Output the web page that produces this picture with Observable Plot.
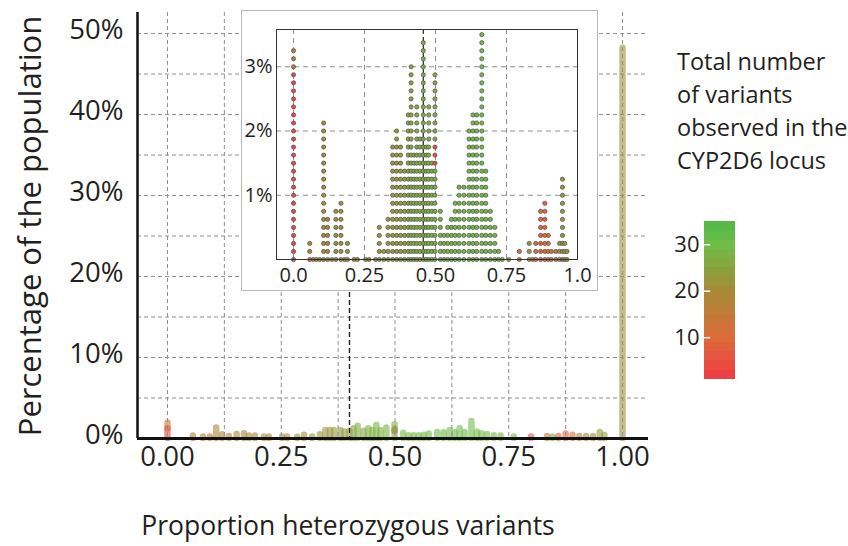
<!DOCTYPE html>
<html><head><meta charset="utf-8">
<script src="https://cdn.jsdelivr.net/npm/d3@7"></script>
<script src="https://cdn.jsdelivr.net/npm/@observablehq/plot@0.6"></script>
<style>
html,body{margin:0;padding:0;background:#fff;}
#wrap{position:relative;width:848px;height:546px;overflow:hidden;font-family:"Open Sans",sans-serif;color:#231f20;}
#main{position:absolute;left:0;top:0;}
#inset{position:absolute;left:241px;top:10px;width:355px;height:279px;border:1px solid #b8b8b8;background:#fff;}
#bar{position:absolute;left:660px;top:211px;}
.lbl{position:absolute;white-space:nowrap;}
#xt{left:348px;top:507px;font-size:26.5px;transform:translateX(-50%);}
#yt{left:29px;top:226px;font-size:31px;transform:translate(-50%,-50%) rotate(-90deg);}
#lt{left:677px;top:45px;font-size:23.5px;line-height:33px;}
</style></head><body>
<div id="wrap">
  <div id="main"></div>
  <div id="inset"></div>
  <div id="bar"></div>
  <div class="lbl" id="xt">Proportion heterozygous variants</div>
  <div class="lbl" id="yt">Percentage of the population</div>
  <div class="lbl" id="lt">Total number<br>of variants<br>observed in the<br>CYP2D6 locus</div>
</div>
<script>
// ---------- colour (total number of variants) ----------
const colorDomain = [1, 10, 20, 30, 35];
const colorRange = ["#ef3b45", "#dc6b3a", "#a68a36", "#6dbd46", "#50b84b"];
const legendTicks = [10, 20, 30];
const legendBands = [1, 3, 5, 7, 9, 11, 13, 15, 17, 19, 21, 23, 25, 27, 29, 31, 33];

// ---------- main chart: proportion heterozygous, % of population, total variants ----------
const mainX = [0.000, 0.000, 0.056, 0.078, 0.093, 0.107, 0.120, 0.135, 0.152, 0.168, 0.179, 0.192, 0.212, 0.223,
  0.252, 0.263, 0.285, 0.300, 0.318, 0.335, 0.347, 0.357, 0.366, 0.380, 0.389, 0.400, 0.409, 0.418, 0.431, 0.441,
  0.450, 0.459, 0.468, 0.481, 0.499, 0.499, 0.499, 0.518, 0.530, 0.541, 0.552, 0.563, 0.574, 0.593, 0.607, 0.620,
  0.631, 0.642, 0.653, 0.668, 0.680, 0.690, 0.702, 0.717, 0.732, 0.761, 0.799, 0.834, 0.846, 0.859, 0.875, 0.890,
  0.905, 0.920, 0.935, 0.950, 0.960, 1.000];
const mainH = [1.2, 0.7, 0.3, 0.2, 0.2, 1.3, 0.45, 0.25, 0.5, 0.6, 0.3, 0.3, 0.2, 0.2,
  0.2, 0.2, 0.15, 0.4, 0.2, 0.45, 1.0, 1.0, 1.0, 1.0, 0.8, 0.9, 1.2, 1.5, 0.9, 1.2,
  1.0, 1.6, 1.0, 1.3, 0.9, 0.2, 0.6, 0.65, 0.35, 0.35, 0.35, 0.4, 0.55, 0.75, 0.7, 1.0,
  0.7, 1.2, 0.75, 2.1, 0.8, 0.6, 0.5, 0.35, 0.3, 0.2, 0.2, 0.25, 0.2, 0.25, 0.55, 0.4,
  0.25, 0.25, 0.25, 0.75, 0.4, 48.2];
const mainV = [3, 12, 18, 16, 16, 20, 19, 16, 20, 20, 19, 20, 19, 18,
  20, 20, 21, 21, 21, 22, 22, 22, 23, 23, 23, 24, 25, 27, 26, 27,
  27, 28, 27, 28, 28, 6, 28, 29, 29, 29, 29, 29, 29, 29, 29, 30,
  29, 30, 29, 30, 29, 29, 29, 29, 28, 29, 6, 14, 27, 8, 8, 12,
  17, 19, 21, 23, 23, 22];
const mainXTicks = [0, 0.25, 0.5, 0.75, 1];
const mainYTicks = [0, 10, 20, 30, 40, 50];
const mainXGrid = [0, 0.125, 0.25, 0.375, 0.5, 0.625, 0.75, 0.875, 1];
const mainYGrid = [5, 10, 15, 20, 25, 30, 35, 40, 45, 50];
const mainMarker = [0.40];
const mainXDomain = [-0.0659, 1.0571];
const mainYDomain = [0, 52.6];

// ---------- inset: one dot per 1/8 % of the population ----------
const dotStep = 0.125;
const insetX = [0.000, 0.000, 0.057, 0.069, 0.080, 0.092, 0.106, 0.120, 0.135, 0.149, 0.167, 0.180, 0.190, 0.213,
  0.225, 0.254, 0.266, 0.289, 0.302, 0.318, 0.333, 0.349, 0.363, 0.377, 0.391, 0.404, 0.414, 0.424, 0.434, 0.445,
  0.457, 0.467, 0.476, 0.487, 0.498, 0.498, 0.498, 0.517, 0.530, 0.543, 0.556, 0.569, 0.583, 0.600, 0.618, 0.632,
  0.645, 0.663, 0.677, 0.693, 0.709, 0.722, 0.735, 0.758, 0.795, 0.830, 0.842, 0.853, 0.870, 0.885, 0.897, 0.908,
  0.924, 0.937, 0.947, 0.955, 0.963];
const insetN = [24, 3, 3, 1, 1, 1, 18, 6, 1, 7, 8, 1, 3, 1,
  1, 1, 1, 1, 5, 2, 6, 15, 17, 15, 12, 19, 25, 14, 20, 16,
  28, 15, 20, 13, 12, 3, 9, 7, 4, 5, 6, 8, 10, 10, 17, 19,
  19, 29, 12, 7, 5, 2, 1, 1, 2, 3, 1, 3, 7, 8, 4, 2,
  2, 3, 11, 3, 2];
const insetV = [3, 14, 19, 17, 17, 19, 20, 20, 17, 21, 21, 18, 21, 19,
  21, 22, 21, 22, 22, 24, 24, 23, 23, 24, 25, 25, 25, 26, 26, 26,
  26, 27, 27, 27, 27, 4, 27, 28, 29, 28, 29, 29, 28, 29, 29, 29,
  29, 30, 29, 29, 29, 28, 28, 27, 10, 23, 12, 10, 9, 9, 12, 15,
  13, 22, 22, 24, 22];
const insetXTicks = [0, 0.25, 0.5, 0.75, 1];
const insetXLabels = ["0.0", "0.25", "0.50", "0.75", "1.0"];
const insetYTicks = [1, 2, 3];
const insetXGrid = [0, 0.25, 0.5, 0.75];
const insetMarker = [0.457];
const insetXDomain = [-0.06, 1.0];
const insetYDomain = [0, 3.58];

// ---------- build tables ----------
const colorOpts = {type: "linear", domain: colorDomain, range: colorRange, interpolate: "rgb"};
const mainRows = [];
const mBase = new Map();
mainX.forEach((x, i) => {
  const b = mBase.get(x) || 0;
  mainRows.push({x, y1: b, y2: b + mainH[i], v: mainV[i]});
  mBase.set(x, b + mainH[i]);
});
const insetDots = [];
const iBase = new Map();
insetX.forEach((x, i) => {
  const b = iBase.get(x) || 0;
  for (let k = 0; k < insetN[i]; k++) insetDots.push({x, y: (b + k) * dotStep, v: insetV[i]});
  iBase.set(x, b + insetN[i]);
});

const gridStyle = {stroke: "#8f8f8f", strokeOpacity: 1, strokeDasharray: "4,3", strokeWidth: 1};
const font = {fontFamily: "'Open Sans', sans-serif", color: "#231f20", background: "transparent", overflow: "visible"};

const main = Plot.plot({
  width: 660, height: 546, marginLeft: 137, marginRight: 12, marginTop: 12, marginBottom: 108,
  style: font,
  x: {domain: mainXDomain}, y: {domain: mainYDomain},
  color: colorOpts,
  marks: [
    Plot.ruleX(mainRows, {x: "x", y1: "y1", y2: "y2", stroke: "v", strokeWidth: 6.5, strokeLinecap: "round", strokeOpacity: 0.6}),
    Plot.gridX(mainXGrid, gridStyle),
    Plot.gridY(mainYGrid, gridStyle),
    Plot.ruleX(mainMarker, {stroke: "#222", strokeWidth: 1.4, strokeDasharray: "5,3"}),
    Plot.ruleY([mainYDomain[0]], {stroke: "#111", strokeWidth: 3}),
    Plot.ruleX([mainXDomain[0]], {stroke: "#111", strokeWidth: 2.5}),
    Plot.axisY(mainYTicks, {tickSize: 0, tickPadding: 14, fontSize: 27.5, dy: -3, tickFormat: d => d + "%", label: null}),
    Plot.axisX(mainXTicks, {tickSize: 0, tickPadding: 8, fontSize: 27.5, tickFormat: d3.format(".2f"), label: null})
  ]
});
document.getElementById("main").appendChild(main);

const inset = Plot.plot({
  width: 355, height: 279, marginLeft: 34, marginRight: 20, marginTop: 18, marginBottom: 31,
  style: {...font, background: "white"},
  x: {domain: insetXDomain}, y: {domain: insetYDomain},
  color: colorOpts,
  marks: [
    Plot.gridX(insetXGrid, {...gridStyle, strokeDasharray: "5,4"}),
    Plot.gridY(insetYTicks, {...gridStyle, strokeDasharray: "5,4"}),
    Plot.ruleX(insetMarker, {stroke: "#333", strokeWidth: 1.3, strokeDasharray: "5,3"}),
    Plot.dot(insetDots, {x: "x", y: "y", r: 2.1, fill: "v", stroke: "#4d4d4d", strokeWidth: 0.7}),
    Plot.frame({stroke: "#333"}),
    Plot.axisY(insetYTicks, {tickSize: 0, tickPadding: 4, fontSize: 20, tickFormat: d => d + "%", label: null}),
    Plot.axisX(insetXTicks, {tickSize: 0, tickPadding: 8, fontSize: 20, tickFormat: d => insetXLabels[insetXTicks.indexOf(d)], label: null})
  ]
});
document.getElementById("inset").appendChild(inset);

const bar = Plot.plot({
  width: 80, height: 180, marginLeft: 44, marginRight: 5, marginTop: 10, marginBottom: 12,
  style: font,
  x: {domain: [0, 1], axis: null}, y: {domain: [1, 35]},
  color: colorOpts,
  marks: [
    Plot.rect(legendBands, {x1: 0, x2: 1, y1: d => d, y2: d => Math.min(d + 2, 35), fill: d => d + 1, shapeRendering: "crispEdges"}),
    Plot.ruleY(legendTicks, {x1: 0, x2: 0.2, stroke: "white", strokeWidth: 1.5}),
    Plot.axisY(legendTicks, {tickSize: 0, tickPadding: 5, fontSize: 22, label: null})
  ]
});
document.getElementById("bar").appendChild(bar);
</script>
</body></html>
